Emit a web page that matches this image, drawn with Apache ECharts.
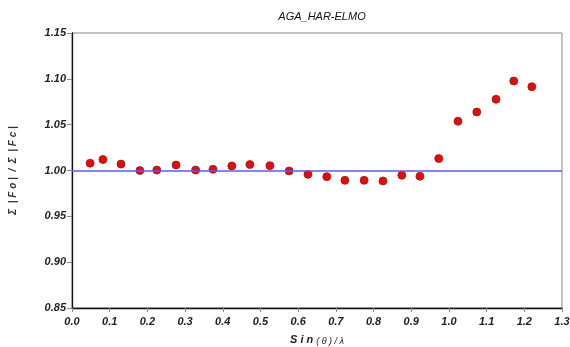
<!DOCTYPE html>
<html>
<head>
<meta charset="utf-8">
<script src="https://cdn.jsdelivr.net/npm/echarts@6/dist/echarts.min.js"></script>
<style>
  html, body { margin: 0; padding: 0; background: #fff; }
  #chart { width: 570px; height: 347px; }
</style>
</head>
<body>
<div id="chart"></div>
<script>
// sin(theta)/lambda resolution shells
const sinThetaOverLambda = [0.048, 0.082, 0.130, 0.180, 0.225, 0.276, 0.328, 0.374, 0.424, 0.472, 0.525, 0.576,
  0.626, 0.676, 0.724, 0.775, 0.825, 0.875, 0.923, 0.973, 1.024, 1.074, 1.125, 1.172, 1.220];
// sum|Fo| / sum|Fc| per shell
const fRatio = [1.008, 1.012, 1.007, 1.000, 1.0005, 1.006, 1.0005, 1.0013, 1.005, 1.0065, 1.0053, 0.9995,
  0.9958, 0.9933, 0.9893, 0.9893, 0.9886, 0.9948, 0.9937, 1.013, 1.0537, 1.0638, 1.0777, 1.0976, 1.0914];
const referenceLevel = 1.0;
const chartTitle = 'AGA_HAR-ELMO';

const points = sinThetaOverLambda.map((x, i) => [x, fRatio[i]]);

const tickFont = {
  fontFamily: 'Liberation Sans, Arial, sans-serif',
  fontStyle: 'italic',
  fontWeight: 'bold',
  fontSize: 11,
  color: '#222'
};

const chart = echarts.init(document.getElementById('chart'), null, { renderer: 'canvas' });
chart.setOption({
  animation: false,
  backgroundColor: '#fff',
  title: {
    text: chartTitle,
    left: 317,
    textAlign: 'center',
    top: 6,
    textStyle: {
      fontFamily: 'Liberation Sans, Arial, sans-serif',
      fontStyle: 'italic',
      fontWeight: 'normal',
      fontSize: 11,
      color: '#111'
    }
  },
  grid: {
    left: 72, right: 8, top: 33, bottom: 39,
    containLabel: false,
    outerBoundsMode: 'none',
    show: true,
    borderColor: '#888',
    borderWidth: 1
  },
  xAxis: {
    type: 'value',
    min: 0, max: 1.3, interval: 0.1,
    axisLine: { show: true, onZero: false, lineStyle: { color: '#111', width: 1.3 } },
    axisTick: { show: true, length: 4, lineStyle: { color: '#888' } },
    splitLine: { show: false },
    axisLabel: Object.assign({ margin: 8, formatter: v => v.toFixed(1) }, tickFont),
    name: '{a|S i n}{b|( θ ) / λ}',
    nameLocation: 'middle',
    nameGap: 25,
    nameTextStyle: {
      rich: {
        a: { fontFamily: 'Liberation Sans, Arial, sans-serif', fontStyle: 'italic', fontWeight: 'bold', fontSize: 11, color: '#222' },
        b: { fontFamily: 'Liberation Sans, Arial, sans-serif', fontStyle: 'italic', fontSize: 9, color: '#222', padding: [4, 0, 0, 3] }
      }
    }
  },
  yAxis: {
    type: 'value',
    min: 0.85, max: 1.15, interval: 0.05,
    axisLine: { show: true, onZero: false, lineStyle: { color: '#111', width: 1.3 } },
    axisTick: { show: true, length: 5, lineStyle: { color: '#888' } },
    splitLine: { show: false },
    axisLabel: Object.assign({ margin: 6, formatter: v => v.toFixed(2), padding: [0, 0, 7, 0] }, tickFont),
    name: 'Σ  | F o |  /  Σ  | F c |',
    nameLocation: 'middle',
    nameGap: 54,
    nameTextStyle: {
      fontFamily: 'Liberation Sans, Arial, sans-serif',
      fontStyle: 'italic',
      fontWeight: 'bold',
      fontSize: 10,
      color: '#333'
    }
  },
  series: [{
    type: 'scatter',
    data: points,
    symbol: 'circle',
    symbolSize: 8,
    itemStyle: { color: '#ff0000', borderColor: '#6a3030', borderWidth: 0.8, opacity: 1 },
    markLine: {
      silent: true,
      symbol: 'none',
      label: { show: false },
      lineStyle: { color: '#5a5aff', width: 1.5, type: 'solid' },
      data: [{ yAxis: referenceLevel }]
    },
    z: 3
  }]
});
</script>
</body>
</html>
